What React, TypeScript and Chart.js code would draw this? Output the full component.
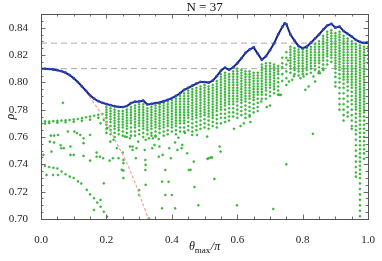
import { useEffect, useRef } from 'react';
import { Chart, registerables } from 'chart.js';

Chart.register(...registerables);

const xTicks = [0, 0.2, 0.4, 0.6, 0.8, 1.0];
const yTicks = [0.7, 0.72, 0.74, 0.76, 0.78, 0.8, 0.82, 0.84];
const refLevels = [0.8287, 0.81];
const titleText = 'N = 37';

const blueTheta = [
  0, 0.0125, 0.025, 0.0375, 0.05, 0.0625, 0.075, 0.0875, 0.1, 0.1125, 0.125, 0.1375, 0.15, 0.1625, 0.175, 0.1875,
  0.2, 0.2125, 0.225, 0.2375, 0.25, 0.2625, 0.275, 0.2875, 0.3, 0.3125, 0.325, 0.3375, 0.35, 0.3625, 0.375, 0.3875,
  0.4, 0.4125, 0.425, 0.4375, 0.45, 0.4625, 0.475, 0.4875, 0.5, 0.5125, 0.525, 0.5375, 0.55, 0.5625, 0.575, 0.5875,
  0.6, 0.6125, 0.625, 0.6375, 0.65, 0.6625, 0.675, 0.6875, 0.7, 0.7125, 0.725, 0.7375, 0.745, 0.75, 0.7625, 0.775, 0.7875,
  0.8, 0.8125, 0.825, 0.8375, 0.85, 0.8625, 0.875, 0.8875, 0.9, 0.9125, 0.925, 0.9375, 0.95, 0.9625, 0.975, 0.9875, 1.0,
];
const blueRho = [
  0.81, 0.8099, 0.8097, 0.8094, 0.8089, 0.8082, 0.807, 0.8053, 0.803, 0.8002, 0.797, 0.7938, 0.7905, 0.788, 0.7862, 0.785,
  0.7841, 0.7833, 0.7825, 0.782, 0.7819, 0.7826, 0.7848, 0.7858, 0.786, 0.7866, 0.7838, 0.7842, 0.7848, 0.7852, 0.7862, 0.7872,
  0.7885, 0.79, 0.792, 0.7945, 0.796, 0.7975, 0.799, 0.8003, 0.8002, 0.7998, 0.8012, 0.8045, 0.8085, 0.8108, 0.8092, 0.811,
  0.814, 0.8175, 0.8215, 0.824, 0.8256, 0.821, 0.8165, 0.819, 0.8235, 0.8285, 0.835, 0.8405, 0.8432, 0.8425, 0.835, 0.8305, 0.8265,
  0.825, 0.8262, 0.829, 0.832, 0.835, 0.8385, 0.8415, 0.8428, 0.84, 0.8408, 0.8375, 0.8355, 0.8335, 0.831, 0.8295, 0.8288, 0.8287,
];

const redTheta = [0.13, 0.15, 0.17, 0.19, 0.21, 0.23, 0.25, 0.27, 0.29, 0.31, 0.33, 0.336];
const redRho = [0.7955, 0.789, 0.782, 0.775, 0.766, 0.756, 0.747, 0.737, 0.725, 0.712, 0.699, 0.695];

// dense columns of green points (rho in thousandths)
const columnTheta = [
  0.2, 0.2125, 0.225, 0.2375, 0.25, 0.2625, 0.275, 0.2875, 0.3, 0.3125, 0.325, 0.3375, 0.35, 0.3625, 0.375, 0.3875,
  0.4, 0.4125, 0.425, 0.4375, 0.45, 0.4625, 0.475, 0.4875, 0.5, 0.5125, 0.525, 0.5375, 0.55, 0.5625, 0.575, 0.5875,
  0.6, 0.6125, 0.625, 0.6375, 0.65, 0.6625, 0.675, 0.6875, 0.7, 0.7125, 0.725, 0.7375, 0.75, 0.7625, 0.775, 0.7875,
  0.8, 0.8125, 0.825, 0.8375, 0.85, 0.8625, 0.875, 0.8875, 0.9, 0.9125, 0.925, 0.9375, 0.95, 0.9625, 0.975, 0.9875, 1.0,
];
const columnRho = [
  [782, 780, 778, 776, 774, 771, 769, 766, 763],
  [781, 779, 777, 775, 773, 771, 768, 765, 762],
  [780, 778, 776, 774, 772, 770, 768, 766, 763, 760],
  [779, 777, 775, 773, 771, 769, 767, 765, 762],
  [779, 777, 775, 773, 771, 769, 767, 764, 761],
  [780, 778, 776, 774, 772, 770, 768, 766, 763, 760],
  [782, 780, 778, 776, 774, 772, 770, 767, 764, 761],
  [783, 781, 779, 777, 775, 773, 771, 769, 767, 764, 761],
  [784, 782, 780, 778, 776, 774, 772, 770, 768, 765, 762],
  [784, 782, 780, 778, 776, 774, 772, 770, 768, 766, 763, 760],
  [781, 779, 777, 775, 773, 771, 769, 767, 765, 762],
  [782, 780, 778, 776, 774, 772, 770, 768, 766, 763, 761],
  [783, 781, 779, 777, 775, 773, 771, 769, 767, 764, 761],
  [784, 782, 780, 778, 776, 774, 772, 770, 768, 766, 763],
  [785, 783, 781, 779, 777, 775, 773, 771, 769, 767, 764, 761],
  [786, 784, 782, 780, 778, 776, 774, 772, 770, 768, 765, 762],
  [787, 785, 783, 781, 779, 777, 775, 773, 771, 769, 767, 764],
  [788, 786, 784, 782, 780, 778, 776, 774, 772, 770, 768, 765, 762],
  [790, 788, 786, 784, 782, 780, 778, 776, 774, 772, 770, 767, 764],
  [792, 790, 788, 786, 784, 782, 780, 778, 776, 774, 772, 770, 767, 764],
  [794, 792, 790, 788, 786, 784, 782, 780, 778, 776, 774, 771, 768, 765],
  [795, 793, 791, 789, 787, 785, 783, 781, 779, 777, 775, 773, 770, 767, 764],
  [796, 794, 792, 790, 788, 786, 784, 782, 780, 778, 776, 774, 771, 768, 765],
  [797, 795, 793, 791, 789, 787, 785, 783, 781, 779, 777, 775, 772, 769, 766],
  [798, 796, 794, 792, 790, 788, 786, 784, 782, 780, 778, 776, 773, 770, 767],
  [797, 795, 793, 791, 789, 787, 785, 783, 781, 779, 777, 775, 772, 769, 766],
  [798, 796, 794, 792, 790, 788, 786, 784, 782, 780, 778, 776, 774, 771, 768],
  [801, 799, 797, 795, 793, 791, 789, 787, 785, 783, 781, 779, 776, 773, 770, 767],
  [806, 804, 802, 800, 798, 796, 794, 792, 790, 788, 786, 784, 782, 780, 777, 774, 770],
  [807, 805, 803, 801, 799, 797, 795, 793, 791, 789, 787, 785, 783, 780, 777, 774, 771],
  [806, 804, 802, 800, 798, 796, 794, 792, 790, 788, 786, 784, 781, 778, 775, 772],
  [808, 806, 804, 802, 800, 798, 796, 794, 792, 790, 788, 786, 784, 781, 778, 775],
  [810, 808, 806, 804, 802, 800, 798, 796, 794, 792, 790, 788, 786, 783, 780, 777, 774],
  [809, 807, 805, 803, 801, 799, 797, 795, 793, 791, 789, 787, 785, 782, 779, 776],
  [808, 806, 804, 802, 800, 798, 796, 794, 792, 790, 788, 786, 783, 780, 777, 774],
  [808, 806, 804, 802, 800, 798, 796, 794, 792, 790, 788, 785, 782, 779, 776],
  [807, 805, 803, 801, 799, 797, 795, 793, 791, 789, 787, 784, 781, 778],
  [807, 805, 803, 801, 799, 797, 795, 793, 791, 788, 785, 782, 779],
  [813, 811, 809, 807, 805, 803, 801, 799, 797, 795, 793, 791, 788],
  [814, 812, 810, 808, 806, 804, 802, 800, 798, 796, 794, 791, 788],
  [814, 812, 810, 808, 806, 804, 802, 800, 798, 796, 793, 790],
  [813, 811, 809, 807, 805, 803, 801, 799, 797, 795, 792],
  [812, 810, 808, 806, 803, 800, 797, 794, 791],
  [818, 814, 811, 806, 801],
  [822, 818, 813, 808, 803, 798],
  [826, 824, 822, 820, 818, 816, 814, 812, 810, 807],
  [825, 823, 821, 819, 817, 815, 813, 811, 809, 806],
  [824, 822, 820, 818, 816, 814, 812, 810, 808, 805],
  [824, 822, 820, 818, 816, 814, 812, 810, 808, 806],
  [825, 823, 821, 819, 817, 815, 813, 811, 809, 806],
  [826, 824, 822, 820, 818, 816, 814, 812, 810, 807],
  [828, 826, 824, 822, 820, 818, 816, 814, 812, 809],
  [830, 828, 826, 824, 822, 820, 818, 816, 814, 811, 808],
  [834, 832, 830, 828, 826, 824, 822, 820, 818, 816, 813, 810],
  [837, 835, 833, 831, 829, 827, 825, 823, 821, 819, 816, 813],
  [838, 836, 834, 832, 830, 828, 826, 824, 822, 820, 818, 815],
  [836, 834, 832, 830, 828, 826, 824, 822, 820, 818, 816, 814, 812, 810, 807, 804, 800, 797],
  [837, 835, 833, 831, 829, 827, 825, 823, 821, 819, 817, 815, 813, 811, 809, 806, 803, 800, 796, 792, 788, 784, 780],
  [834, 832, 830, 828, 826, 824, 822, 820, 818, 816, 814, 812, 810, 808, 806, 804, 802, 799, 796, 792, 788, 784, 780, 776, 772],
  [832, 830, 828, 826, 824, 822, 820, 818, 816, 814, 812, 810, 808, 806, 804, 802, 800, 797, 794, 790, 786, 782, 778, 775],
  [830, 828, 826, 824, 822, 820, 818, 816, 814, 812, 810, 808, 806, 804, 802, 800, 798, 796, 793, 790, 787, 784, 780, 776, 772, 768, 766],
  [828, 826, 824, 822, 820, 818, 816, 814, 812, 810, 808, 806, 804, 802, 800, 798, 796, 794, 792, 790, 788, 786, 784, 782, 780, 777, 774, 771, 768, 765, 762, 758, 754, 750, 746, 742, 738, 734, 731],
  [827, 825, 823, 821, 819, 817, 815, 813, 811, 809, 807, 805, 803, 801, 799, 797, 795, 793, 791, 789, 787, 785, 783, 781, 779, 777, 775, 772, 769, 766, 763, 760, 757, 754, 751, 748, 745, 742, 739, 736, 733, 730, 726, 722, 718, 714, 710, 706, 702],
  [826, 824, 822, 820, 818, 816, 814, 812, 810, 808, 806, 804, 802, 800, 798, 796, 794, 792, 790, 788, 786, 784, 782, 780, 778, 775, 772, 769, 766, 763, 760, 757, 754, 751, 748, 744],
  [826, 823, 820, 817, 814],
];

// scattered green points
const sparseTheta = [
  0, 0.0125, 0.025, 0.0375, 0.05, 0.0625, 0.075, 0.0875, 0.1, 0.1125, 0.125, 0.1375, 0.15, 0.1625, 0.175, 0.1875,
  0, 0.0125, 0.025, 0.05, 0.075, 0.1, 0.125, 0.15, 0.175,
  0.027, 0.03, 0.04, 0.052, 0.04, 0.06, 0.07, 0.082, 0.09, 0.09, 0.1, 0.102, 0.11, 0.12, 0.13, 0.13, 0.13, 0.15, 0.15,
  0.17, 0.17, 0.18, 0.19, 0.21, 0.22, 0.007, 0.032, 0.062, 0.067, 0.017, 0.037, 0.052,
  0, 0.012, 0.025, 0.038, 0.05, 0.063, 0.075, 0.088, 0.1, 0.113, 0.123, 0.14, 0.15, 0.162, 0.172, 0.182, 0.192, 0.202,
  0.162, 0.182, 0.192,
  0.182, 0.192, 0.202, 0.212, 0.222, 0.232, 0.237, 0.247, 0.252, 0.25, 0.252, 0.252, 0.252, 0.257, 0.272, 0.272, 0.28, 0.28,
  0.29, 0.292, 0.297, 0.3, 0.3, 0.317, 0.319, 0.319, 0.32, 0.32, 0.32, 0.33, 0.34, 0.342, 0.347, 0.35, 0.36, 0.362, 0.37,
  0.37, 0.372, 0.38, 0.38, 0.39, 0.392, 0.397, 0.4, 0.41, 0.41, 0.417, 0.43, 0.432, 0.44, 0.447, 0.452, 0.457, 0.467,
  0.469, 0.481, 0.509, 0.519, 0.53, 0.546, 0.549, 0.599, 0.71, 0.75, 0.831,
  0.462, 0.477, 0.508, 0.513, 0.523, 0.638, 0.673, 0.733, 0.758, 0.755, 0.728,
  0.803, 0.818, 0.833, 0.853, 0.863, 0.838, 0.768, 0.773, 0.793, 0.808, 0.848,
  0.33, 0.36, 0.42, 0.59, 0.61, 0.62, 0.64, 0.69, 0.7,
];
const sparseRho = [
  0.7712, 0.7714, 0.7713, 0.7716, 0.7718, 0.772, 0.7722, 0.7724, 0.7728, 0.7732, 0.7738, 0.7744, 0.775, 0.7756, 0.7762, 0.7768,
  0.7695, 0.7698, 0.7701, 0.7705, 0.7708, 0.7712, 0.7718, 0.7727, 0.774,
  0.7566, 0.761, 0.761, 0.7615, 0.756, 0.754, 0.7518, 0.764, 0.753, 0.7469, 0.7469, 0.764, 0.7628, 0.7615, 0.759, 0.7555, 0.7462, 0.7615, 0.7427,
  0.7486, 0.7456, 0.7456, 0.7445, 0.7427, 0.7445, 0.7469, 0.7493, 0.7518, 0.785, 0.7322, 0.7322, 0.7322,
  0.7395, 0.7388, 0.738, 0.7375, 0.737, 0.7347, 0.7327, 0.731, 0.73, 0.7275, 0.726, 0.7213, 0.718, 0.7152, 0.712, 0.709, 0.7053, 0.7017,
  0.7066, 0.7139, 0.7261,
  0.77, 0.7725, 0.7665, 0.7566, 0.758, 0.7518, 0.7445, 0.736, 0.73, 0.7486, 0.7432, 0.7408, 0.7354, 0.7603, 0.7591, 0.753, 0.753, 0.7505,
  0.7445, 0.7518, 0.7566, 0.7212, 0.7176, 0.7505, 0.7432, 0.7359, 0.7579, 0.7396, 0.725, 0.7003, 0.7518, 0.7591, 0.7542, 0.7603, 0.7456, 0.753, 0.7273,
  0.7078, 0.7469, 0.7359, 0.7176, 0.7273, 0.7518, 0.7445, 0.7176, 0.7078, 0.756, 0.7505, 0.7518, 0.7542, 0.763, 0.7481, 0.7359, 0.736, 0.742,
  0.7234, 0.71, 0.744, 0.745, 0.7293, 0.753, 0.7493, 0.71, 0.7073, 0.74, 0.7623,
  0.7615, 0.7615, 0.7603, 0.7445, 0.745, 0.775, 0.786, 0.7908, 0.8006, 0.816, 0.7908,
  0.8043, 0.797, 0.8043, 0.8067, 0.809, 0.8006, 0.8018, 0.8045, 0.803, 0.7945, 0.8067,
  0.759, 0.7585, 0.7595, 0.766, 0.768, 0.77, 0.771, 0.782, 0.783,
];

const FONT = '"Liberation Serif", "DejaVu Serif", serif';

export default function App() {
  const ref = useRef<HTMLCanvasElement | null>(null);

  useEffect(() => {
    document.body.style.margin = '0';
    const canvas = ref.current;
    if (!canvas) return;

    const greenData: { x: number; y: number }[] = [];
    sparseTheta.forEach((t, i) => greenData.push({ x: t, y: sparseRho[i] }));
    columnTheta.forEach((t, i) => columnRho[i].forEach((r) => greenData.push({ x: t, y: r / 1000 })));

    const frameTicks = {
      id: 'frameTicks',
      afterDraw(chart: any) {
        const { ctx, chartArea: a, scales } = chart;
        const xs = scales.x;
        const ys = scales.y;
        ctx.save();
        ctx.strokeStyle = '#6a6a6a';
        ctx.lineWidth = 1;
        ctx.beginPath();
        for (let i = 0; i <= 20; i++) {
          const v = i * 0.05;
          const major = i % 4 === 0;
          const len = major ? 4.5 : 2.5;
          const px = Math.round(xs.getPixelForValue(v)) + 0.5;
          ctx.moveTo(px, a.bottom);
          ctx.lineTo(px, a.bottom - len);
          ctx.moveTo(px, a.top);
          ctx.lineTo(px, a.top + len);
        }
        for (let i = 0; i <= 30; i++) {
          const v = 0.7 + i * 0.005;
          const major = i % 4 === 0;
          const len = major ? 4.5 : 2.5;
          const py = Math.round(ys.getPixelForValue(v)) + 0.5;
          ctx.moveTo(a.left, py);
          ctx.lineTo(a.left + len, py);
          ctx.moveTo(a.right, py);
          ctx.lineTo(a.right - len, py);
        }
        ctx.stroke();
        ctx.strokeStyle = '#555555';
        ctx.strokeRect(Math.round(a.left) + 0.5, Math.round(a.top) + 0.5, Math.round(a.right - a.left), Math.round(a.bottom - a.top));

        // title
        const cx = (a.left + a.right) / 2;
        ctx.fillStyle = '#111';
        ctx.font = `13px ${FONT}`;
        ctx.textAlign = 'center';
        ctx.textBaseline = 'alphabetic';
        ctx.fillText(titleText, cx, 10.5);

        // x title: θmax/π
        const big = `italic 12px ${FONT}`;
        const small = `9px ${FONT}`;
        ctx.font = big;
        const wT = ctx.measureText('θ').width;
        const wP = ctx.measureText('/π').width;
        ctx.font = small;
        const wM = ctx.measureText('max').width;
        const total = wT + wM + 0.5 + wP;
        let x0 = cx - total / 2;
        const base = 250;
        ctx.textAlign = 'left';
        ctx.font = big;
        ctx.fillText('θ', x0, base);
        x0 += wT;
        ctx.font = small;
        ctx.fillText('max', x0, base + 3);
        x0 += wM + 0.5;
        ctx.font = big;
        ctx.fillText('/π', x0, base);

        // y title
        ctx.save();
        ctx.translate(10.5, (a.top + a.bottom) / 2);
        ctx.rotate(-Math.PI / 2);
        ctx.font = `italic 12px ${FONT}`;
        ctx.textAlign = 'center';
        ctx.textBaseline = 'middle';
        ctx.fillText('ρ', 0, 0);
        ctx.restore();
        ctx.restore();
      },
    };

    const chart = new Chart(canvas, {
      type: 'scatter',
      data: {
        datasets: [
          {
            label: 'envelope',
            data: blueTheta.map((t, i) => ({ x: t, y: blueRho[i] })),
            showLine: true,
            borderColor: '#18257e',
            borderWidth: 2,
            pointRadius: 1.4,
            pointBackgroundColor: '#2a44c4',
            pointBorderWidth: 0,
            order: 0,
          },
          {
            label: 'red',
            data: redTheta.map((t, i) => ({ x: t, y: redRho[i] })),
            showLine: true,
            borderColor: '#f3a2a2',
            borderWidth: 1.2,
            borderDash: [3, 2],
            pointRadius: 0,
            order: 1,
          },
          {
            label: 'states',
            data: greenData,
            pointRadius: 1.05,
            pointBackgroundColor: 'rgb(52,192,52)',
            pointBorderColor: 'rgb(34,160,34)',
            pointBorderWidth: 0.4,
            order: 2,
          },
          ...refLevels.map((lv, i) => ({
            label: 'ref' + i,
            data: [
              { x: 0, y: lv },
              { x: 1, y: lv },
            ],
            showLine: true,
            borderColor: '#a8a8a8',
            borderWidth: 1,
            borderDash: [6, 4],
            pointRadius: 0,
            order: 3,
          })),
        ],
      },
      options: {
        responsive: false,
        animation: false,
        events: [],
        layout: { padding: { left: 0, top: 14, right: 8, bottom: 0 } },
        plugins: { legend: { display: false }, tooltip: { enabled: false }, title: { display: false } },
        scales: {
          x: {
            type: 'linear',
            min: 0,
            max: 1,
            grid: { display: false },
            border: { display: false },
            afterBuildTicks: (s: any) => {
              s.ticks = xTicks.map((v) => ({ value: v }));
            },
            afterFit: (s: any) => {
              s.height = 42;
            },
            ticks: {
              padding: 7,
              maxRotation: 0,
              autoSkip: false,
              color: '#222',
              font: { family: FONT, size: 11 },
              callback: (v: any) => Number(v).toFixed(1),
            },
          },
          y: {
            type: 'linear',
            min: 0.7,
            max: 0.85,
            grid: { display: false },
            border: { display: false },
            afterBuildTicks: (s: any) => {
              s.ticks = yTicks.map((v) => ({ value: v }));
            },
            afterFit: (s: any) => {
              s.width = 41;
            },
            ticks: {
              padding: 5,
              autoSkip: false,
              color: '#222',
              font: { family: FONT, size: 11 },
              callback: (v: any) => Number(v).toFixed(2),
            },
          },
        },
      },
      plugins: [frameTicks],
    });

    return () => chart.destroy();
  }, []);

  return (
    <div style={{ position: 'absolute', left: 0, top: 0, width: 382, height: 261 }}>
      <canvas ref={ref} width={382} height={261} />
    </div>
  );
}
